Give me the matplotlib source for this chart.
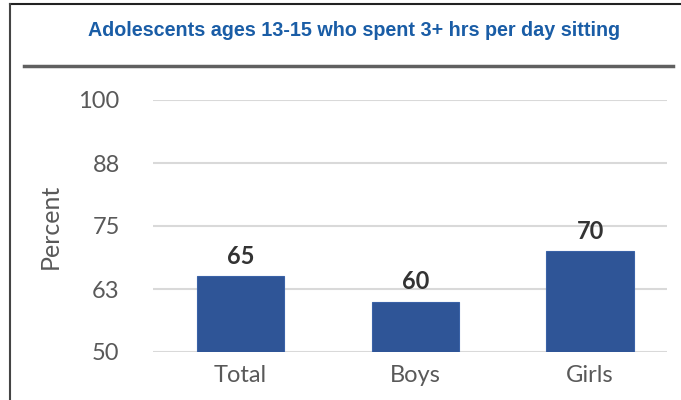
import matplotlib.pyplot as plt
from matplotlib.lines import Line2D

categories = ["Total", "Boys", "Girls"]
values = [65, 60, 70]
yticks = [50, 62.5, 75, 87.5, 100]
ytick_labels = ["50", "63", "75", "88", "100"]

fig = plt.figure(figsize=(6.81, 4.00), dpi=100)
ax = fig.add_axes([153 / 681, 0.12, (667 - 153) / 681, 0.63])

x = list(range(len(categories)))
bars = ax.bar(x, values, width=0.5, color="#2F5597", edgecolor="#3A62A7",
              linewidth=0.8, zorder=3)

for xi, v in zip(x, values):
    ax.annotate(str(v), (xi, v), xytext=(0, 6), textcoords="offset points",
                ha="center", va="bottom", fontsize=17, fontweight="bold",
                color="#333333", family="Lato")

ax.set_ylim(50, 100)
ax.set_xlim(-0.5, 2.44)
ax.set_yticks(yticks)
ax.set_yticklabels(ytick_labels, family="Lato", fontsize=17, color="#595959")
ax.set_xticks(x)
ax.set_xticklabels(categories, family="Lato", fontsize=17, color="#595959")
ax.tick_params(axis="y", length=0, pad=24)
ax.tick_params(axis="x", length=0, pad=9)
ax.grid(axis="y", color="#D9D9D9", linewidth=1.5, zorder=0)
for s in ax.spines.values():
    s.set_visible(False)

ax.set_ylabel("Percent", family="Lato", fontsize=18, color="#595959")
ax.yaxis.set_label_coords(-0.177, 0.5)

fig.text(0.52, 0.925, "Adolescents ages 13-15 who spent 3+ hrs per day sitting",
         ha="center", va="center", fontsize=14.2, fontweight="bold",
         color="#1A5DA6", family="Liberation Sans")

# frame and separator
fig.add_artist(Line2D([10 / 681, 1], [1 - 4 / 400, 1 - 4 / 400],
                      color="#222222", linewidth=1.5))
fig.add_artist(Line2D([10 / 681, 10 / 681], [0, 1 - 4 / 400],
                      color="#444444", linewidth=1.5))
fig.add_artist(Line2D([24 / 681, 673 / 681], [1 - 66 / 400, 1 - 66 / 400],
                      color="#606060", linewidth=2.5))

fig.savefig("out.png", dpi=100)
